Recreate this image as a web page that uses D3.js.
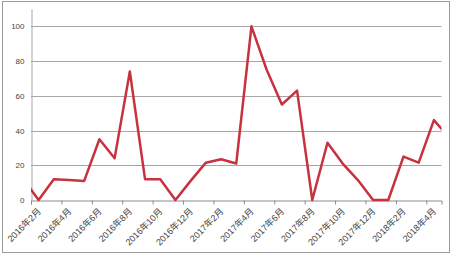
<!DOCTYPE html>
<head>
    <meta charset="utf-8">
    <title>Monthly line chart</title>
    <script src="https://d3js.org/d3.v7.min.js"></script>
    <style>
        body { margin: 0; background: #fff; }
        svg text { font-family: "Liberation Sans", "Noto Sans CJK SC", sans-serif; fill: #444; }
    </style>
</head>
<body>
    <svg class="chart" width="454" height="255"></svg>
    <script>
        // months from 2016年1月 to 2018年5月 (first and last are half clipped)
        var months = [
            "2016年1月","2016年2月","2016年3月","2016年4月","2016年5月","2016年6月",
            "2016年7月","2016年8月","2016年9月","2016年10月","2016年11月","2016年12月",
            "2017年1月","2017年2月","2017年3月","2017年4月","2017年5月","2017年6月",
            "2017年7月","2017年8月","2017年9月","2017年10月","2017年11月","2017年12月",
            "2018年1月","2018年2月","2018年3月","2018年4月","2018年5月"
        ];
        var values = [12, 0, 12, 11.5, 11, 35, 24, 74, 12, 12, 0, 11, 21.5, 23.5, 21, 100, 75, 55, 63, 0, 33, 21, 11.5, 0, 0, 25, 21.5, 46, 36];
        var yTicks = [0, 20, 40, 60, 80, 100];
        // labelled months: every second one from 2016年2月
        var labelIdx = [1, 3, 5, 7, 9, 11, 13, 15, 17, 19, 21, 23, 25, 27];

        var svg = d3.select("svg");
        var plotL = 31, plotR = 441.5, plotT = 9, plotB = 200;

        var x = d3.scaleLinear().domain([0.5, 27.5]).range([plotL, plotR]);
        var y = d3.scaleLinear().domain([0, 110]).range([plotB, plotT]);

        // chart border
        svg.append("rect")
            .attr("x", 2.5).attr("y", 1.5).attr("width", 447).attr("height", 251)
            .attr("fill", "none").attr("stroke", "#9a9a9a").attr("stroke-width", 1);

        // gridlines
        svg.append("g").selectAll("line").data(yTicks.slice(1)).enter().append("line")
            .attr("x1", plotL).attr("x2", plotR)
            .attr("y1", function(d){ return Math.round(y(d)) + 0.5; })
            .attr("y2", function(d){ return Math.round(y(d)) + 0.5; })
            .attr("stroke", "#a6a6a6").attr("stroke-width", 1);

        // y axis
        var yAxis = svg.append("g")
            .attr("transform", "translate(" + (plotL + 0.5) + ",0)")
            .call(d3.axisLeft(y).tickValues(yTicks).tickSize(0).tickPadding(7));
        yAxis.select(".domain").attr("stroke", "#a6a6a6");
        yAxis.selectAll("text").style("font-size", "8px").attr("fill", "#444");

        // x axis: ticks on category boundaries every two months
        var tickPos = d3.range(0.5, 27.5, 2);
        var xAxis = svg.append("g")
            .attr("transform", "translate(0," + (Math.round(y(0)) + 0.5) + ")")
            .call(d3.axisBottom(x).tickValues(tickPos).tickSize(4).tickFormat(""));
        xAxis.select(".domain").attr("stroke", "#8c8c8c");
        xAxis.selectAll(".tick line").attr("stroke", "#8c8c8c");

        svg.append("g").selectAll("text").data(labelIdx).enter().append("text")
            .attr("transform", function(i){ return "translate(" + (x(i) + 3) + "," + (y(0) + 12) + ") rotate(-45)"; })
            .attr("text-anchor", "end")
            .style("font-size", "9px")
            .text(function(i){ return months[i]; });

        // clip line to plot area
        svg.append("clipPath").attr("id", "plot")
            .append("rect").attr("x", plotL).attr("y", 0).attr("width", plotR - plotL).attr("height", plotB + 3);

        var line = d3.line()
            .x(function(d, i){ return x(i); })
            .y(function(d){ return y(d); });

        svg.append("path")
            .datum(values)
            .attr("clip-path", "url(#plot)")
            .attr("d", line)
            .attr("fill", "none")
            .attr("stroke", "#c8313e")
            .attr("stroke-width", 2.5)
            .attr("stroke-linejoin", "round");
    </script>
</body>
